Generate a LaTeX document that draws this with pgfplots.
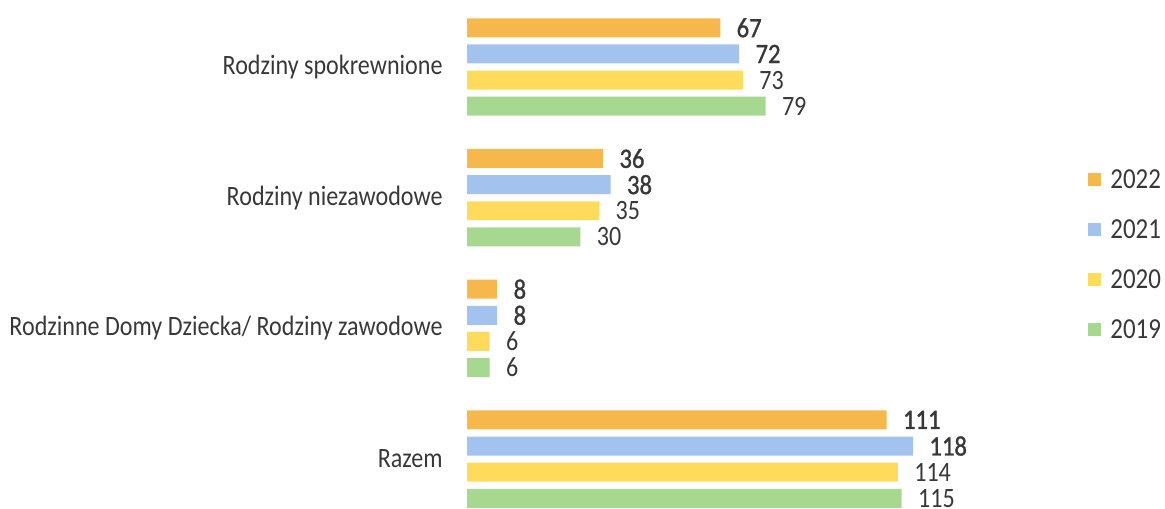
\documentclass[border=0pt]{standalone}
\usepackage{pgfplots}
\pgfplotsset{compat=1.18}
\usepackage{fontspec}
\setmainfont{Carlito}[FakeStretch=0.86]
\newfontfamily\semib{Carlito}[FakeStretch=0.88, FakeBold=1.2]
\definecolor{cOr}{HTML}{F6B84A}
\definecolor{cBl}{HTML}{A3C3EF}
\definecolor{cYe}{HTML}{FFDB5C}
\definecolor{cGr}{HTML}{A6D88F}
\definecolor{txt}{HTML}{383838}
\begin{document}
\begin{tikzpicture}
\begin{axis}[
  at={(233.5pt,253.175pt)}, anchor=north west,
  scale only axis, width=264.6pt, height=261.4pt,
  xbar, y dir=reverse,
  xmin=0, xmax=140, ymin=-0.5, ymax=3.5,
  bar width=0.145,
  clip=false,
  axis line style={draw=none}, major tick length=0pt,
  xtick=\empty,
  ytick={0,1,2,3},
  yticklabels={Rodziny spokrewnione, Rodziny niezawodowe, Rodzinne Domy Dziecka/ Rodziny zawodowe, Razem},
  yticklabel style={inner sep=0pt, xshift=-12pt, font=\fontsize{14}{16}\selectfont, text=txt},
  /pgf/number format/assume math mode=true,
  nodes near coords,
  every node near coord/.append style={anchor=west, inner sep=0pt, xshift=8pt, text=txt, font=\fontsize{14}{16}\selectfont},
  legend cell align=left,
  legend image code/.code={\fill[#1,draw=none] (0pt,-3.25pt) rectangle (6.5pt,3.25pt);},
  legend style={draw=none, fill=none, inner sep=0pt, at={(1.1735,0.5163)}, anchor=west,
    row sep=16pt, column sep=4.5pt,
    nodes={inner sep=0pt, text height=9pt, text depth=0pt, text=txt, font=\fontsize{14.5}{16}\selectfont}},
]
\addplot[fill=cOr, draw=none, bar shift=-0.3, every node near coord/.append style={font=\fontsize{14}{16}\semib}] coordinates {(67,0) (36,1) (8,2) (111,3)};
\addplot[fill=cBl, draw=none, bar shift=-0.1, every node near coord/.append style={font=\fontsize{14}{16}\semib}] coordinates {(72,0) (38,1) (8,2) (118,3)};
\addplot[fill=cYe, draw=none, bar shift=0.1] coordinates {(73,0) (35,1) (6,2) (114,3)};
\addplot[fill=cGr, draw=none, bar shift=0.3] coordinates {(79,0) (30,1) (6,2) (115,3)};
\legend{2022,2021,2020,2019}
\end{axis}
\pgfresetboundingbox
\useasboundingbox (0,0) rectangle (582.5pt,254pt);
\end{tikzpicture}
\end{document}
